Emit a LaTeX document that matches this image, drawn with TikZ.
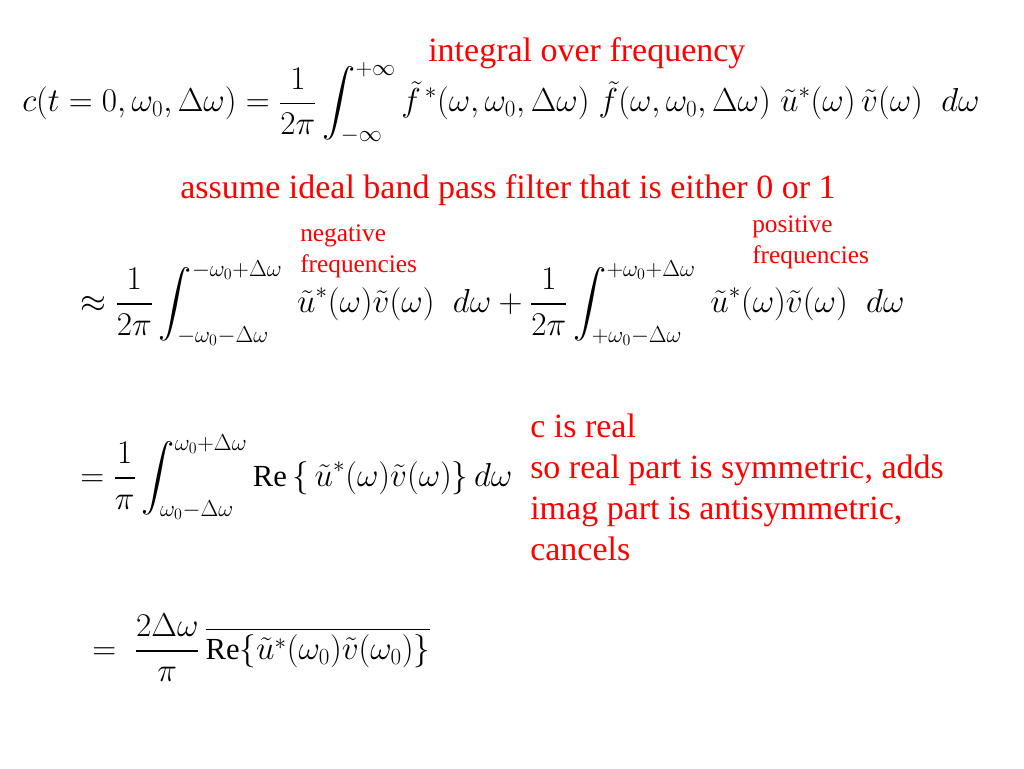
\documentclass[tikz,border=0pt]{standalone}
\usepackage{amsmath}
\usepackage{fontspec}
\setmainfont{Liberation Serif}
\begin{document}
\begin{tikzpicture}[x=0.75pt,y=-0.75pt,
  red/.style={text=red,anchor=west,inner sep=0pt,font=\fontsize{25.5}{30}\selectfont},
  sred/.style={text=red,anchor=west,inner sep=0pt,align=left,font=\fontsize{19}{23}\selectfont},
  eq/.style={anchor=west,inner sep=0pt,font=\fontsize{25.5}{30}\selectfont},
  eqs/.style={anchor=west,inner sep=0pt,font=\fontsize{23}{27}\selectfont}]
\useasboundingbox[fill=white] (0,0) rectangle (1024,768);
\node[red] (t1) at (428,53) {integral over frequency};
\node[eq] (e1) at (22,103) {$\displaystyle c(t=0,\omega_0,\Delta\omega)=\frac{1}{2\pi}\int_{-\infty}^{+\infty}\tilde f^{\,*}(\omega,\omega_0,\Delta\omega)\;\tilde f(\omega,\omega_0,\Delta\omega)\;\tilde u^*(\omega)\,\tilde v(\omega)\;\;d\omega$};
\node[red] (t2) at (180,190) {assume ideal band pass filter that is either 0 or 1};
\node[sred] (t3) at (300,251) {negative\\frequencies};
\node[sred] (t4) at (752,242) {positive\\frequencies};
\node[eq] (e2) at (80,303) {$\displaystyle \approx\frac{1}{2\pi}\int_{-\omega_0-\Delta\omega}^{-\omega_0+\Delta\omega}\;\tilde u^*(\omega)\tilde v(\omega)\;\;d\omega+\frac{1}{2\pi}\int_{+\omega_0-\Delta\omega}^{+\omega_0+\Delta\omega}\;\tilde u^*(\omega)\tilde v(\omega)\;\;d\omega$};
\node[eqs] (e3) at (80,477) {$\displaystyle =\frac{1}{\pi}\int_{\omega_0-\Delta\omega}^{\omega_0+\Delta\omega}\mathrm{Re}\,\{\,\tilde u^*(\omega)\tilde v(\omega)\}\,d\omega$};
\node[text=red,anchor=north west,inner sep=0pt,align=left,font=\fontsize{25.5}{30.75}\selectfont] (t5) at (530,414) {c is real\\so real part is symmetric, adds\\imag part is antisymmetric,\\cancels};
\node[eqs] (e4) at (92,648) {$\displaystyle =\;\frac{2\Delta\omega}{\pi}\,\overline{\mathrm{Re}\{\tilde u^*(\omega_0)\tilde v(\omega_0)\}}$};
\end{tikzpicture}
\end{document}
